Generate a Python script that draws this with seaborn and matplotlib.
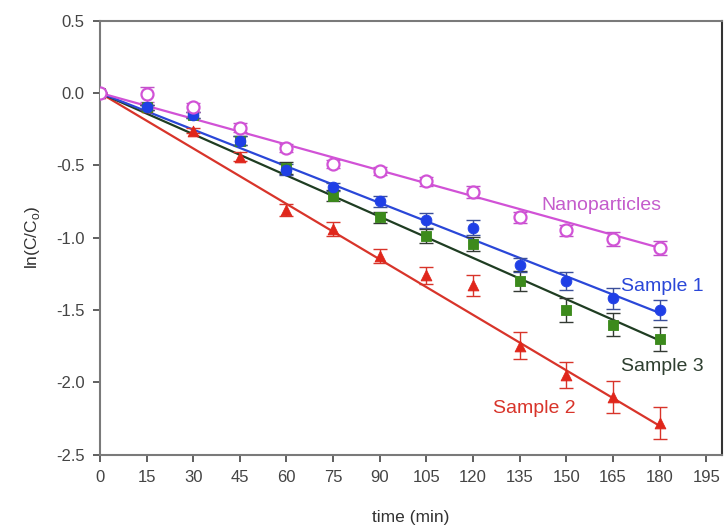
import numpy as np
import pandas as pd
import matplotlib
matplotlib.use("Agg")
import matplotlib.pyplot as plt
import seaborn as sns

# Data
time_min = [0, 15, 30, 45, 60, 75, 90, 105, 120, 135, 150, 165, 180]

nano = [0.0, -0.01, -0.10, -0.24, -0.38, -0.49, -0.54, -0.61, -0.685, -0.86, -0.95, -1.01, -1.07]
nano_err = [0.0, 0.05, 0.03, 0.03, 0.03, 0.03, 0.03, 0.03, 0.04, 0.04, 0.04, 0.05, 0.05]

sample1 = [0.0, -0.10, -0.15, -0.33, -0.53, -0.65, -0.75, -0.88, -0.93, -1.19, -1.30, -1.42, -1.50]
sample1_err = [0.0, 0.02, 0.02, 0.03, 0.04, 0.03, 0.04, 0.05, 0.05, 0.05, 0.06, 0.07, 0.07]

sample3 = [0.0, -0.10, -0.15, -0.33, -0.52, -0.71, -0.86, -0.99, -1.045, -1.30, -1.50, -1.60, -1.70]
sample3_err = [0.0, 0.02, 0.02, 0.03, 0.04, 0.04, 0.04, 0.05, 0.05, 0.07, 0.08, 0.08, 0.08]

sample2 = [0.0, -0.10, -0.26, -0.44, -0.81, -0.94, -1.125, -1.26, -1.33, -1.745, -1.95, -2.10, -2.28]
sample2_err = [0.0, 0.02, 0.02, 0.03, 0.04, 0.05, 0.05, 0.06, 0.07, 0.09, 0.09, 0.11, 0.11]

# fitted first-order lines (through origin), value at t = 180 min
fit_end = {"Nanoparticles": -1.07, "Sample 1": -1.52, "Sample 3": -1.71, "Sample 2": -2.30}

series = {
    "Nanoparticles": (nano, nano_err),
    "Sample 1": (sample1, sample1_err),
    "Sample 3": (sample3, sample3_err),
    "Sample 2": (sample2, sample2_err),
}

style = {
    "Nanoparticles": dict(color="#d152d6", line="#d152d6", ecolor="#c050c8", marker="o", fill=False),
    "Sample 1": dict(color="#1f3fe6", line="#2a47d8", ecolor="#3b4f9a", marker="o", fill=True),
    "Sample 3": dict(color="#3c8a1c", line="#1f3d22", ecolor="#333a33", marker="s", fill=True),
    "Sample 2": dict(color="#e0261b", line="#d8342a", ecolor="#d8342a", marker="^", fill=True),
}

labels_pos = {
    "Nanoparticles": (142, -0.78, "#c45ccc"),
    "Sample 1": (167.5, -1.34, "#2a47d8"),
    "Sample 3": (167.5, -1.89, "#2e3f30"),
    "Sample 2": (126.5, -2.18, "#d8342a"),
}

rows = []
for name, (vals, errs) in series.items():
    for t, v, e in zip(time_min, vals, errs):
        rows.append({"time": t, "value": v, "err": e, "series": name})
df = pd.DataFrame(rows)

fit_rows = []
for name, end in fit_end.items():
    fit_rows.append({"time": 0, "value": 0.0, "series": name})
    fit_rows.append({"time": 180, "value": end, "series": name})
fit_df = pd.DataFrame(fit_rows)

sns.set_style("ticks")
plt.rcParams["font.family"] = ["Liberation Sans", "DejaVu Sans"]

fig = plt.figure(figsize=(7.24, 5.27), dpi=100)
ax = fig.add_axes([0.138, 0.137, 0.859, 0.824])

draw_order = ["Sample 2", "Sample 3", "Sample 1", "Nanoparticles"]
for name in draw_order:
    st = style[name]
    sub = df[df["series"] == name]
    fsub = fit_df[fit_df["series"] == name]
    sns.lineplot(data=fsub, x="time", y="value", color=st["line"], lw=1.6, ax=ax, zorder=2)
    ax.errorbar(sub["time"], sub["value"], yerr=sub["err"], fmt="none",
                ecolor=st["ecolor"], elinewidth=1.0, capsize=5, capthick=1.0, zorder=3)
    if st["fill"]:
        sns.scatterplot(data=sub, x="time", y="value", marker=st["marker"], s=60,
                        color=st["color"], edgecolor=st["color"], ax=ax, zorder=4)
    else:
        sns.scatterplot(data=sub, x="time", y="value", marker=st["marker"], s=75,
                        facecolor="white", edgecolor=st["color"], linewidth=1.6, ax=ax, zorder=5)

for name, (x, y, c) in labels_pos.items():
    ax.text(x, y, name, color=c, fontsize=14, va="center")

ax.set_xlim(0, 200)
ax.set_ylim(-2.5, 0.5)
ax.set_xticks(np.arange(0, 196, 15))
ax.set_yticks(np.arange(-2.5, 0.51, 0.5))
ax.yaxis.set_major_formatter(matplotlib.ticker.FormatStrFormatter("%.1f"))
ax.set_xlabel("time (min)", fontsize=12.5, color="#333333", labelpad=18)
ax.set_ylabel("ln(C/C$_\\mathregular{o}$)", fontsize=12.5, color="#333333", labelpad=10)
ax.tick_params(axis="both", labelsize=12, colors="#444444", length=5, width=1.2, pad=6)
for sp in ax.spines.values():
    sp.set_color("#7a7a7a")
    sp.set_linewidth(1.5)
ax.spines["right"].set_color("#333333")

fig.savefig("out.png", dpi=100)
